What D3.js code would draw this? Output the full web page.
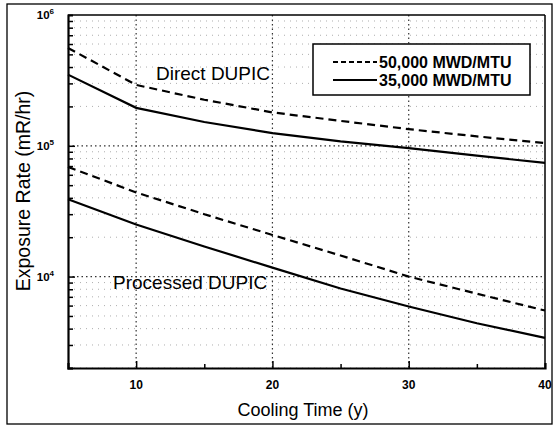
<!DOCTYPE html>
<html><head><meta charset="utf-8">
<script src="https://cdn.jsdelivr.net/npm/d3@7"></script>
<style>body{margin:0;background:#fff}svg{display:block}text{font-family:"Liberation Sans",Arial,sans-serif}</style>
</head><body><svg id="c" width="555" height="426"></svg>
<script>
const coolingTime = [5, 10, 15, 20, 25, 30, 35, 40];
const direct50 = [560000, 292000, 225000, 180000, 155000, 134000, 118000, 105000];
const direct35 = [350000, 195000, 152000, 125000, 108000, 96000, 84000, 74000];
const processed50 = [69000, 44000, 30000, 20800, 14500, 10000, 7400, 5500];
const processed35 = [39000, 25000, 17000, 11700, 8100, 5900, 4400, 3400];
const xTicks = [10, 20, 30, 40];
const yTicks = [1e4, 1e5, 1e6];
const yTickExp = ["4", "5", "6"];
const legendLabels = ["50,000 MWD/MTU", "35,000 MWD/MTU"];
const annotations = ["Direct DUPIC", "Processed DUPIC"];

const svg = d3.select("#c");
const L = 68, R = 545, T = 15, B = 368;
const x = d3.scaleLinear().domain([5, 40]).range([L, R]);
const y = d3.scaleLog().domain([2000, 1e6]).range([B, T]);

svg.append("rect").attr("x", 7).attr("y", 4).attr("width", 545).attr("height", 420)
  .attr("fill", "none").attr("stroke", "#000").attr("stroke-width", 1.3);

const minor = [];
[1e3, 1e4, 1e5].forEach(d => { for (let k = 1; k <= 9; k++) { const v = d * k; if (v >= 2000 && v <= 1e6) minor.push(v); } });

const g = svg.append("g");
g.selectAll(".hg").data(minor).join("line")
  .attr("x1", L).attr("x2", R).attr("y1", d => y(d)).attr("y2", d => y(d))
  .attr("stroke", d => yTicks.includes(d) ? "#333" : "#999")
  .attr("stroke-width", d => yTicks.includes(d) ? 1.2 : 0.8)
  .attr("stroke-dasharray", d => yTicks.includes(d) ? "1.5,3" : "1,5");
g.selectAll(".vg").data([10, 20, 30]).join("line")
  .attr("x1", d => x(d)).attr("x2", d => x(d)).attr("y1", T).attr("y2", B)
  .attr("stroke", "#333").attr("stroke-width", 1.2).attr("stroke-dasharray", "1.5,3");

const yAxis = d3.axisLeft(y).tickValues(minor).tickSize(-5).tickFormat("");
svg.append("g").attr("transform", `translate(${L},0)`).call(yAxis)
  .call(a => a.select(".domain").attr("stroke-width", 2.2))
  .call(a => a.selectAll(".tick line").attr("stroke-width", 1.5).attr("x2", d => yTicks.includes(d) ? 7 : 5));
const xAxis = d3.axisBottom(x).tickValues([10, 15, 20, 25, 30, 35]).tickSize(-5).tickFormat("");
svg.append("g").attr("transform", `translate(0,${B})`).call(xAxis)
  .call(a => a.select(".domain").attr("stroke-width", 2.2))
  .call(a => a.selectAll(".tick line").attr("stroke-width", 1.5).attr("y2", d => xTicks.includes(d) ? -7 : -4));
svg.append("line").attr("x1", L).attr("x2", R).attr("y1", T).attr("y2", T).attr("stroke", "#000").attr("stroke-width", 1.5);
svg.append("line").attr("x1", R).attr("x2", R).attr("y1", T).attr("y2", B).attr("stroke", "#000").attr("stroke-width", 1.5);

svg.selectAll(".xl").data(xTicks).join("text")
  .attr("x", d => x(d)).attr("y", 389).attr("text-anchor", "middle")
  .attr("font-size", 12).attr("font-weight", "bold").text(d => d);
const yl = svg.selectAll(".yl").data(yTicks).join("text")
  .attr("x", 54).attr("y", d => y(d) + 4).attr("text-anchor", "end")
  .attr("font-size", 11.5).attr("font-weight", "bold");
yl.append("tspan").text("10");
yl.append("tspan").attr("dy", -5).attr("font-size", 8).text((d, i) => yTickExp[i]);

svg.append("text").attr("x", 303).attr("y", 416).attr("text-anchor", "middle").attr("font-size", 18).text("Cooling Time (y)");
svg.append("text").attr("transform", "translate(30,191) rotate(-90)").attr("text-anchor", "middle").attr("font-size", 19.5).text("Exposure Rate (mR/hr)");

const line = d3.line().x((d, i) => x(coolingTime[i])).y(d => y(d));
const series = [[direct50, true], [direct35, false], [processed50, true], [processed35, false]];
svg.selectAll(".s").data(series).join("path")
  .attr("d", d => line(d[0])).attr("fill", "none").attr("stroke", "#000").attr("stroke-width", 2.2)
  .attr("stroke-dasharray", d => d[1] ? "8,5" : null);

svg.append("text").attr("x", 156).attr("y", 80).attr("font-size", 19).text(annotations[0]);
svg.append("text").attr("x", 113).attr("y", 289).attr("font-size", 19).text(annotations[1]);

const lg = svg.append("g");
lg.append("rect").attr("x", 313).attr("y", 44).attr("width", 217).attr("height", 51)
  .attr("fill", "#fff").attr("stroke", "#000").attr("stroke-width", 1.5);
[0, 1].forEach(i => {
  const yy = 62 + i * 18;
  lg.append("line").attr("x1", 333).attr("x2", 377).attr("y1", yy).attr("y2", yy)
    .attr("stroke", "#000").attr("stroke-width", 2).attr("stroke-dasharray", i === 0 ? "5,3" : null);
  lg.append("text").attr("x", 379).attr("y", yy + 5.5).attr("font-size", 16).attr("font-weight", "bold").text(legendLabels[i]);
});
</script></body></html>
